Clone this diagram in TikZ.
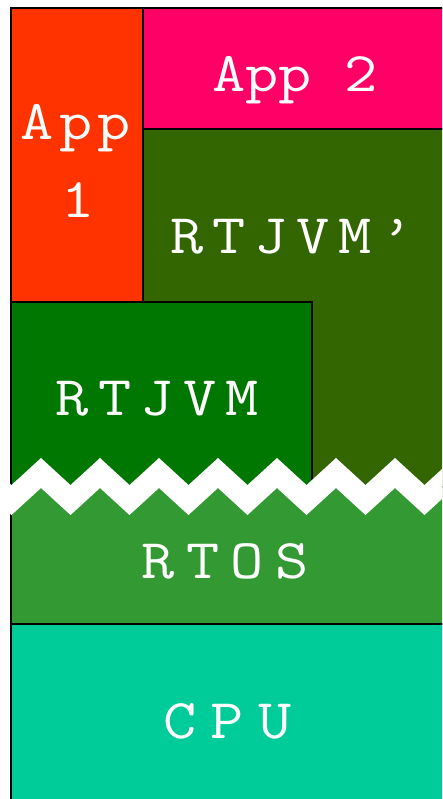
\documentclass[tikz,border=0pt]{standalone}
\usepackage{fontspec}
\definecolor{appone}{HTML}{FF3300}
\definecolor{apptwo}{HTML}{FF0066}
\definecolor{rtjvmp}{HTML}{336600}
\definecolor{rtjvm}{HTML}{007700}
\definecolor{rtos}{HTML}{339933}
\definecolor{cpu}{HTML}{00CC99}
\makeatletter
\newcommand\spacedtext[2]{\def\sp@k{#1}\sp@loop#2\@nil}
\def\sp@loop#1#2\@nil{\scalebox{1.15}[1]{#1}\ifx\relax#2\relax\else\kern\sp@k\sp@loop#2\@nil\fi}
\makeatother
\begin{document}
\begin{tikzpicture}[x=1pt,y=-1pt,
  box/.style={draw=black,line width=2pt},
  lbl/.style={text=white,anchor=base,inner sep=0pt,font=\ttfamily\fontsize{56}{78}\selectfont}]
\clip (0,0) rectangle (442,799);
\fill[white] (0,0) rectangle (442,799);
% layers
\filldraw[box,fill=appone] (11,8.5) rectangle (143,302);
\filldraw[box,fill=apptwo] (143,8.5) rectangle (460,129);
\filldraw[box,fill=rtjvmp] (143,129) rectangle (460,486.5);
\filldraw[box,fill=rtjvm] (11,302) rectangle (312,486.5);
\filldraw[box,fill=rtos] (11,486.5) rectangle (460,624);
\filldraw[box,fill=cpu] (11,624) rectangle (460,830);
% zigzag break
\fill[white] (-18,458)
  \foreach \i in {0,...,8} { -- ({11.5+59*\i},485) -- ({41+59*\i},458) }
  -- ({41+59*8},488)
  \foreach \i in {8,...,0} { -- ({11.5+59*\i},515) -- ({-18+59*\i},488) }
  -- cycle;
% labels
\node[lbl] (app2) at (295,92) {\spacedtext{0pt}{App~2}};
\node[lbl] (app1a) at (76,140) {\spacedtext{5.3pt}{App}};
\node[lbl] (app1b) at (78.5,218) {\spacedtext{0pt}{1}};
\node[lbl] (rtjvmpl) at (292,254) {\spacedtext{8.8pt}{RTJVM’}};
\node[lbl] (rtjvml) at (157.5,415) {\spacedtext{9.3pt}{RTJVM}};
\node[lbl] (rtosl) at (225,578) {\spacedtext{11.3pt}{RTOS}};
\node[lbl] (cpul) at (227.5,738) {\spacedtext{14.3pt}{CPU}};
\end{tikzpicture}
\end{document}
